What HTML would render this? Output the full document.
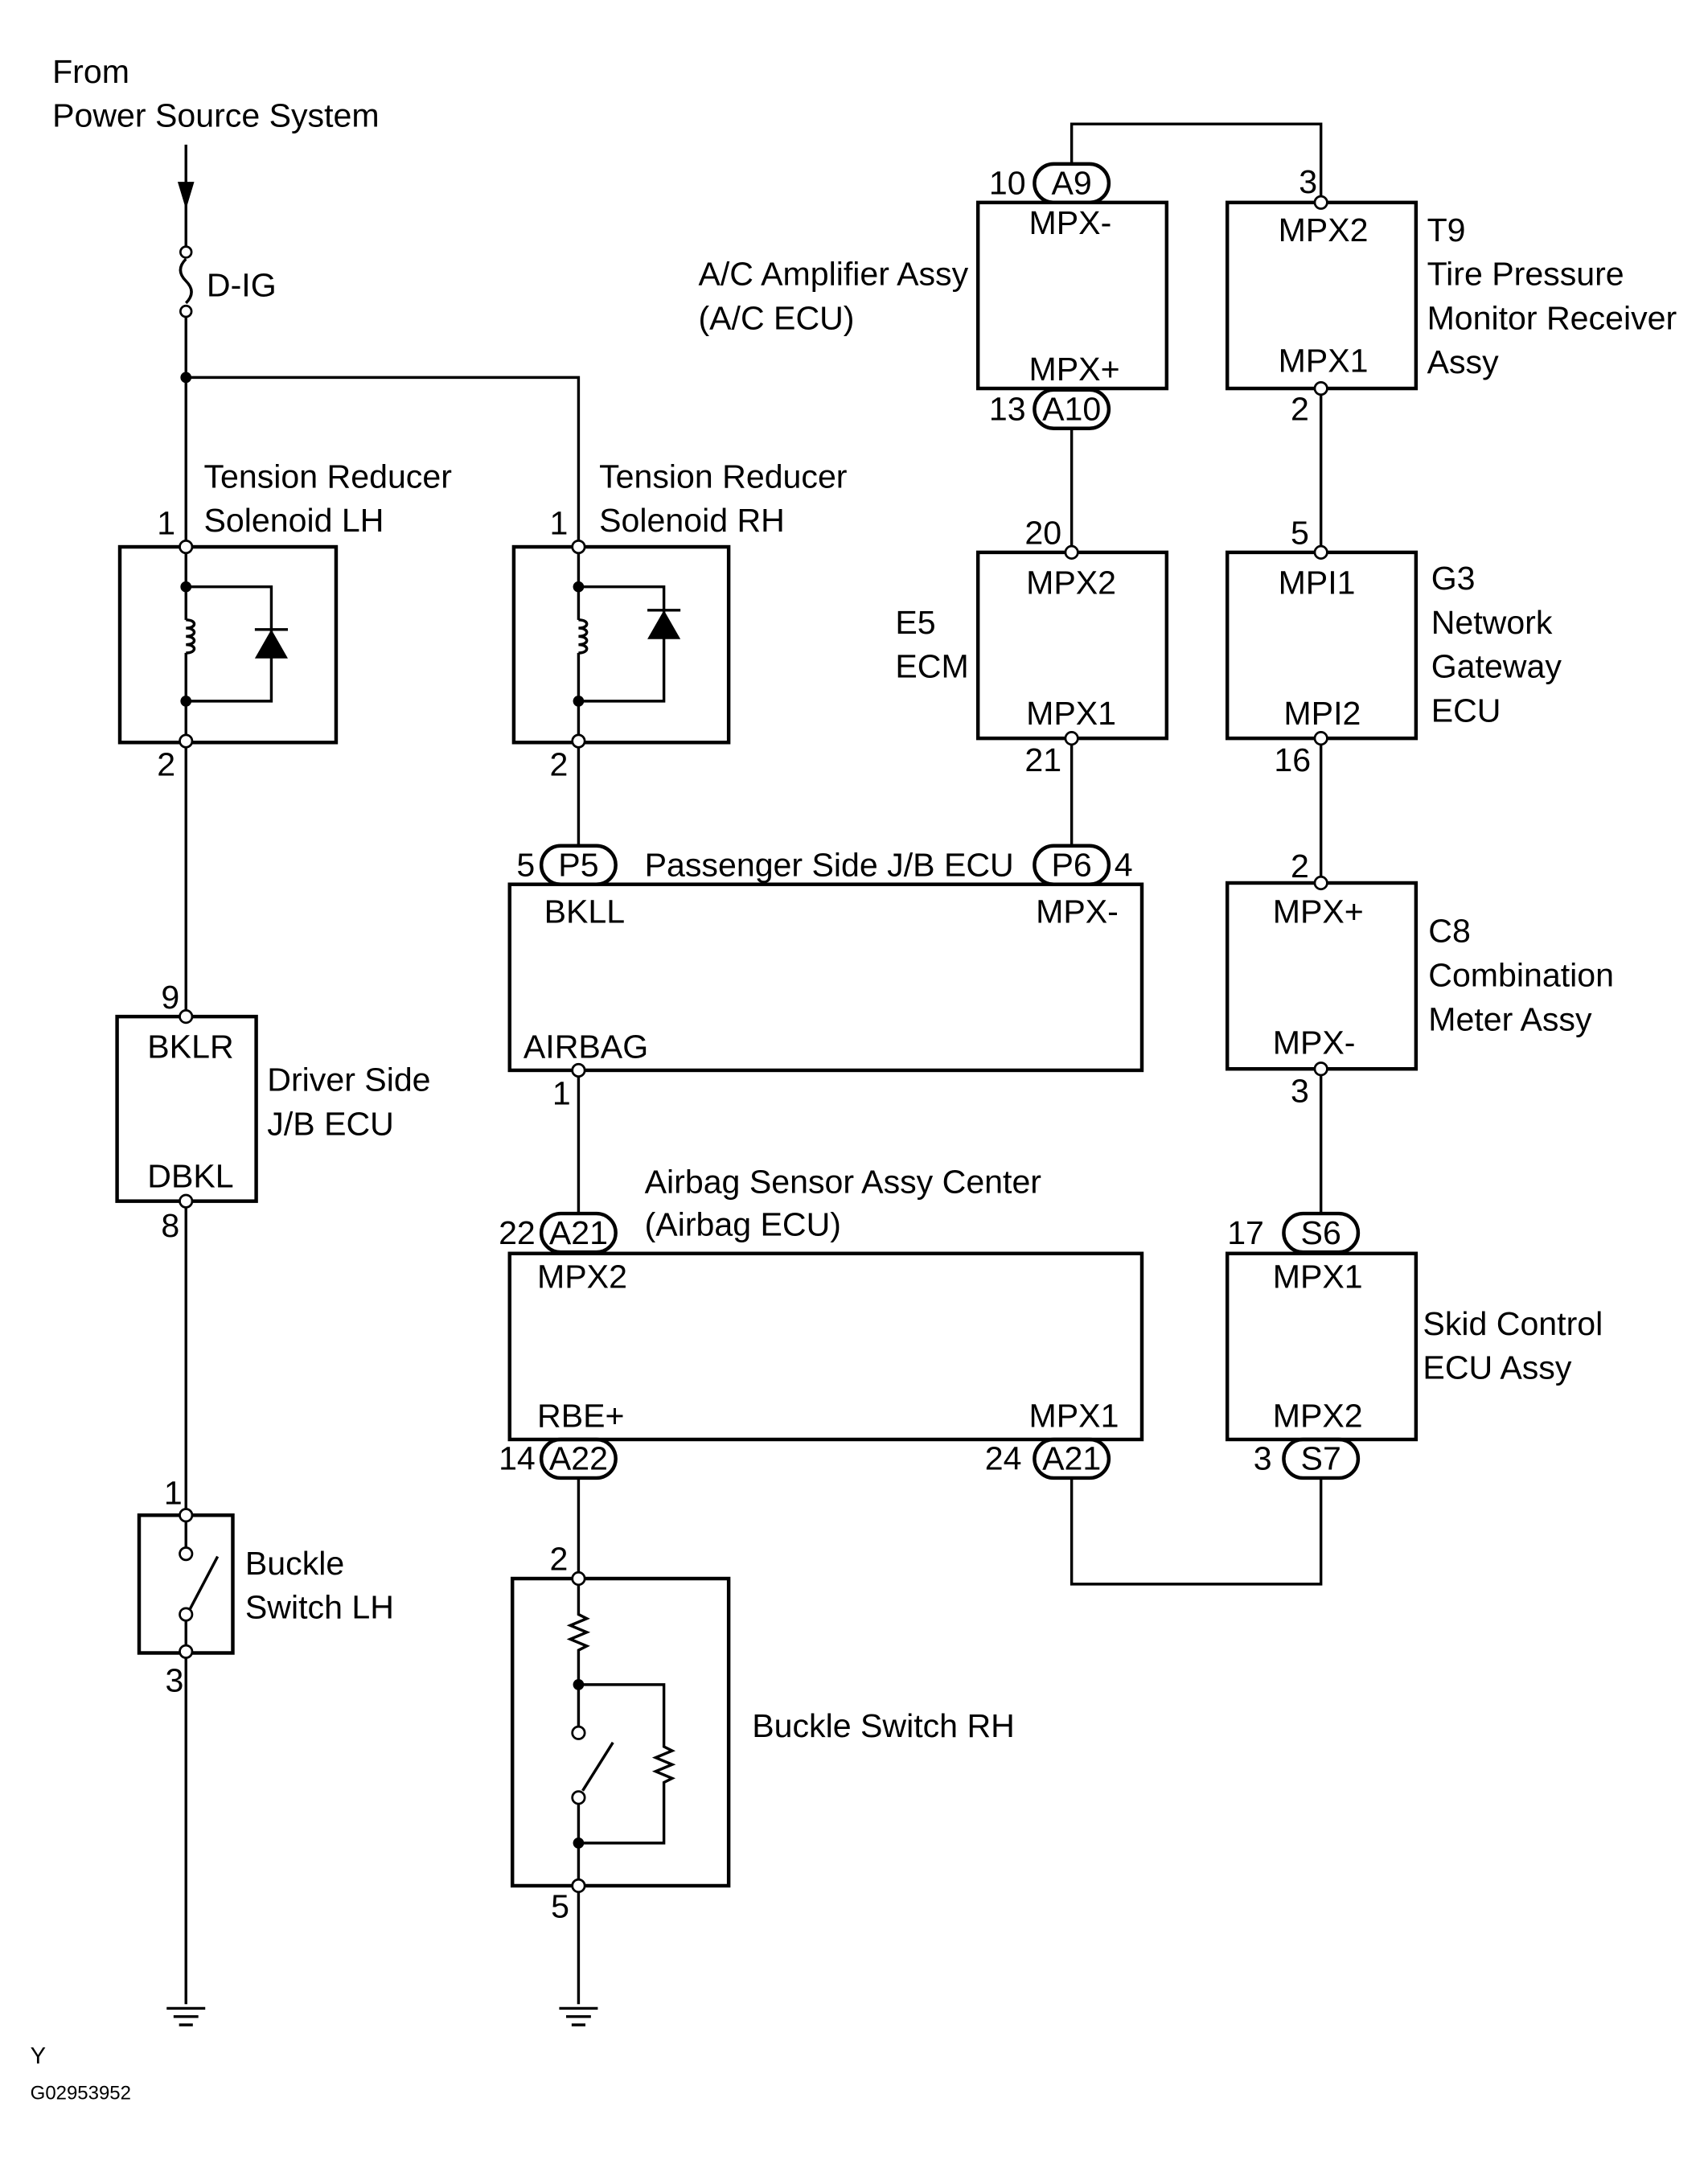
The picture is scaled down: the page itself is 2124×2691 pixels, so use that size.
<!DOCTYPE html>
<html><head><meta charset="utf-8"><style>html,body{margin:0;padding:0;background:#fff}svg{display:block}</style></head>
<body>
<svg width="2124" height="2691" viewBox="0 0 1240 1571" xmlns="http://www.w3.org/2000/svg" font-family="Liberation Sans, Arial, sans-serif" font-size="24" fill="#000">
<g stroke="#000" stroke-width="2" fill="none">
<line x1="135" y1="105" x2="135" y2="183"/>
<path d="M135 188 q-8 8 0 16 q8 8 0 16"/>
<line x1="135" y1="226" x2="135" y2="397"/>
<polyline points="135,274 420,274 420,397"/>
<line x1="135" y1="538" x2="135" y2="738"/>
<line x1="135" y1="872" x2="135" y2="1100"/>
<line x1="135" y1="1199" x2="135" y2="1455"/>
<line x1="420" y1="538" x2="420" y2="614"/>
<line x1="420" y1="777" x2="420" y2="881"/>
<line x1="420" y1="1073" x2="420" y2="1146"/>
<line x1="420" y1="1369" x2="420" y2="1455"/>
<polyline points="778,119 778,90 959,90 959,147"/>
<line x1="778" y1="311" x2="778" y2="401"/>
<line x1="959" y1="282" x2="959" y2="401"/>
<line x1="778" y1="536" x2="778" y2="614"/>
<line x1="959" y1="536" x2="959" y2="641"/>
<line x1="959" y1="776" x2="959" y2="881"/>
<polyline points="778,1073 778,1150 959,1150 959,1073"/>
<g stroke-width="2.6">
<rect x="87" y="397" width="157" height="142"/>
<rect x="373" y="397" width="156" height="142"/>
<rect x="370" y="642" width="459" height="135"/>
<rect x="370" y="910" width="459" height="135"/>
<rect x="85" y="738" width="101" height="134"/>
<rect x="101" y="1100" width="68" height="100"/>
<rect x="372" y="1146" width="157" height="223"/>
<rect x="710" y="147" width="137" height="135"/>
<rect x="891" y="147" width="137" height="135"/>
<rect x="710" y="401" width="137" height="135"/>
<rect x="891" y="401" width="137" height="135"/>
<rect x="891" y="641" width="137" height="135"/>
<rect x="891" y="910" width="137" height="135"/>
<rect x="751" y="119" width="54" height="28" rx="14"/>
<rect x="751" y="283" width="54" height="28" rx="14"/>
<rect x="393" y="614" width="54" height="28" rx="14"/>
<rect x="751" y="614" width="54" height="28" rx="14"/>
<rect x="393" y="881" width="54" height="28" rx="14"/>
<rect x="932" y="881" width="54" height="28" rx="14"/>
<rect x="393" y="1045" width="54" height="28" rx="14"/>
<rect x="751" y="1045" width="54" height="28" rx="14"/>
<rect x="932" y="1045" width="54" height="28" rx="14"/>
</g>
<g>
<line x1="135" y1="397" x2="135" y2="450"/><path d="M135 450 c8 0 8 6 0 6 c8 0 8 6 0 6 c8 0 8 6 0 6 c8 0 8 6 0 6"/><line x1="135" y1="474" x2="135" y2="538"/>
<polyline points="135,426 197,426 197,509 135,509"/>
<line x1="185" y1="457" x2="209" y2="457"/>
<line x1="420" y1="397" x2="420" y2="450"/><path d="M420 450 c8 0 8 6 0 6 c8 0 8 6 0 6 c8 0 8 6 0 6 c8 0 8 6 0 6"/><line x1="420" y1="474" x2="420" y2="538"/>
<polyline points="420,426 482,426 482,509 420,509"/>
<line x1="470" y1="443" x2="494" y2="443"/>
</g>
<line x1="135" y1="1100" x2="135" y2="1124"/>
<line x1="135" y1="1176" x2="135" y2="1199"/>
<line x1="138" y1="1168" x2="158" y2="1130"/>
<path d="M420 1146 V1172 l6 3 l-12 5 l12 5 l-12 5 l12 5 l-6 3 V1254"/>
<polyline points="420,1223 482,1223 482,1268 488,1271 476,1276 488,1281 476,1286 488,1291 482,1294 482,1338 420,1338"/>
<line x1="420" y1="1309" x2="420" y2="1369"/>
<line x1="423" y1="1300" x2="445" y2="1265"/>
<line x1="121" y1="1458" x2="149" y2="1458"/><line x1="126" y1="1464" x2="144" y2="1464"/><line x1="130" y1="1470" x2="140" y2="1470"/>
<line x1="406" y1="1458" x2="434" y2="1458"/><line x1="411" y1="1464" x2="429" y2="1464"/><line x1="415" y1="1470" x2="425" y2="1470"/>
</g>
<path d="M129 132 L141 132 L135 152 Z"/>
<path d="M185 478 L209 478 L197 457 Z"/>
<path d="M470 464 L494 464 L482 443 Z"/>
<g fill="#000"><circle cx="135" cy="274" r="4"/><circle cx="135" cy="426" r="4"/><circle cx="135" cy="509" r="4"/><circle cx="420" cy="426" r="4"/><circle cx="420" cy="509" r="4"/><circle cx="420" cy="1223" r="4"/><circle cx="420" cy="1338" r="4"/></g>
<g fill="#fff" stroke="#000" stroke-width="1.6">
<circle cx="135" cy="183" r="4"/><circle cx="135" cy="226" r="4"/>
<circle cx="135" cy="397" r="4.5"/><circle cx="135" cy="538" r="4.5"/><circle cx="420" cy="397" r="4.5"/><circle cx="420" cy="538" r="4.5"/>
<circle cx="135" cy="738" r="4.5"/><circle cx="135" cy="872" r="4.5"/>
<circle cx="135" cy="1100" r="4.5"/><circle cx="135" cy="1128" r="4.5"/><circle cx="135" cy="1172" r="4.5"/><circle cx="135" cy="1199" r="4.5"/>
<circle cx="420" cy="1146" r="4.5"/><circle cx="420" cy="1258" r="4.5"/><circle cx="420" cy="1305" r="4.5"/><circle cx="420" cy="1369" r="4.5"/>
<circle cx="420" cy="777" r="4.5"/>
<circle cx="959" cy="147" r="4.5"/><circle cx="959" cy="282" r="4.5"/><circle cx="778" cy="401" r="4.5"/><circle cx="778" cy="536" r="4.5"/>
<circle cx="959" cy="401" r="4.5"/><circle cx="959" cy="536" r="4.5"/><circle cx="959" cy="641" r="4.5"/><circle cx="959" cy="776" r="4.5"/>
</g>
<text x="38" y="60">From</text><text x="38" y="92">Power Source System</text>
<text x="150" y="215">D-IG</text>
<text x="148" y="354">Tension Reducer</text><text x="148" y="386">Solenoid LH</text>
<text x="435" y="354">Tension Reducer</text><text x="435" y="386">Solenoid RH</text>
<text x="114" y="388">1</text><text x="114" y="563">2</text><text x="399" y="388">1</text><text x="399" y="563">2</text>
<text x="375" y="636">5</text><text x="468" y="636">Passenger Side J/B ECU</text><text x="809" y="636">4</text>
<text x="395" y="670">BKLL</text><text x="752" y="670">MPX-</text><text x="380" y="768">AIRBAG</text><text x="401" y="802">1</text>
<text x="468" y="866">Airbag Sensor Assy Center</text><text x="468" y="897">(Airbag ECU)</text>
<text x="362" y="903">22</text><text x="390" y="935">MPX2</text><text x="390" y="1036">RBE+</text><text x="747" y="1036">MPX1</text>
<text x="362" y="1067">14</text><text x="715" y="1067">24</text>
<text x="399" y="1140">2</text><text x="400" y="1392">5</text>
<text x="546" y="1261">Buckle Switch RH</text>
<text x="117" y="732">9</text><text x="107" y="768">BKLR</text><text x="107" y="862">DBKL</text><text x="117" y="898">8</text>
<text x="194" y="792">Driver Side</text><text x="194" y="824">J/B ECU</text>
<text x="119" y="1092">1</text><text x="120" y="1228">3</text>
<text x="178" y="1143">Buckle</text><text x="178" y="1175">Switch LH</text>
<text x="718" y="141">10</text><text x="943" y="140">3</text>
<text x="747" y="170">MPX-</text><text x="747" y="276">MPX+</text><text x="928" y="175">MPX2</text><text x="928" y="270">MPX1</text>
<text x="507" y="207">A/C Amplifier Assy</text><text x="507" y="239">(A/C ECU)</text>
<text x="1036" y="175">T9</text><text x="1036" y="207">Tire Pressure</text><text x="1036" y="239">Monitor Receiver</text><text x="1036" y="271">Assy</text>
<text x="718" y="305">13</text><text x="937" y="305">2</text>
<text x="744" y="395">20</text><text x="937" y="395">5</text>
<text x="745" y="431">MPX2</text><text x="745" y="526">MPX1</text><text x="928" y="431">MPI1</text><text x="932" y="526">MPI2</text>
<text x="650" y="460">E5</text><text x="650" y="492">ECM</text>
<text x="1039" y="428">G3</text><text x="1039" y="460">Network</text><text x="1039" y="492">Gateway</text><text x="1039" y="524">ECU</text>
<text x="744" y="560">21</text><text x="925" y="560">16</text><text x="937" y="637">2</text>
<text x="924" y="670">MPX+</text><text x="924" y="765">MPX-</text>
<text x="1037" y="684">C8</text><text x="1037" y="716">Combination</text><text x="1037" y="748">Meter Assy</text>
<text x="937" y="800">3</text><text x="891" y="903">17</text>
<text x="924" y="935">MPX1</text><text x="924" y="1036">MPX2</text>
<text x="1033" y="969">Skid Control</text><text x="1033" y="1001">ECU Assy</text>
<text x="910" y="1067">3</text>
<g text-anchor="middle">
<text x="778" y="141">A9</text><text x="778" y="305">A10</text><text x="420" y="636">P5</text><text x="778" y="636">P6</text>
<text x="420" y="903">A21</text><text x="959" y="903">S6</text><text x="420" y="1067">A22</text><text x="778" y="1067">A21</text><text x="959" y="1067">S7</text>
</g>
<text x="22" y="1498" font-size="17">Y</text><text x="22" y="1524" font-size="14">G02953952</text>
</svg>
</body></html>
